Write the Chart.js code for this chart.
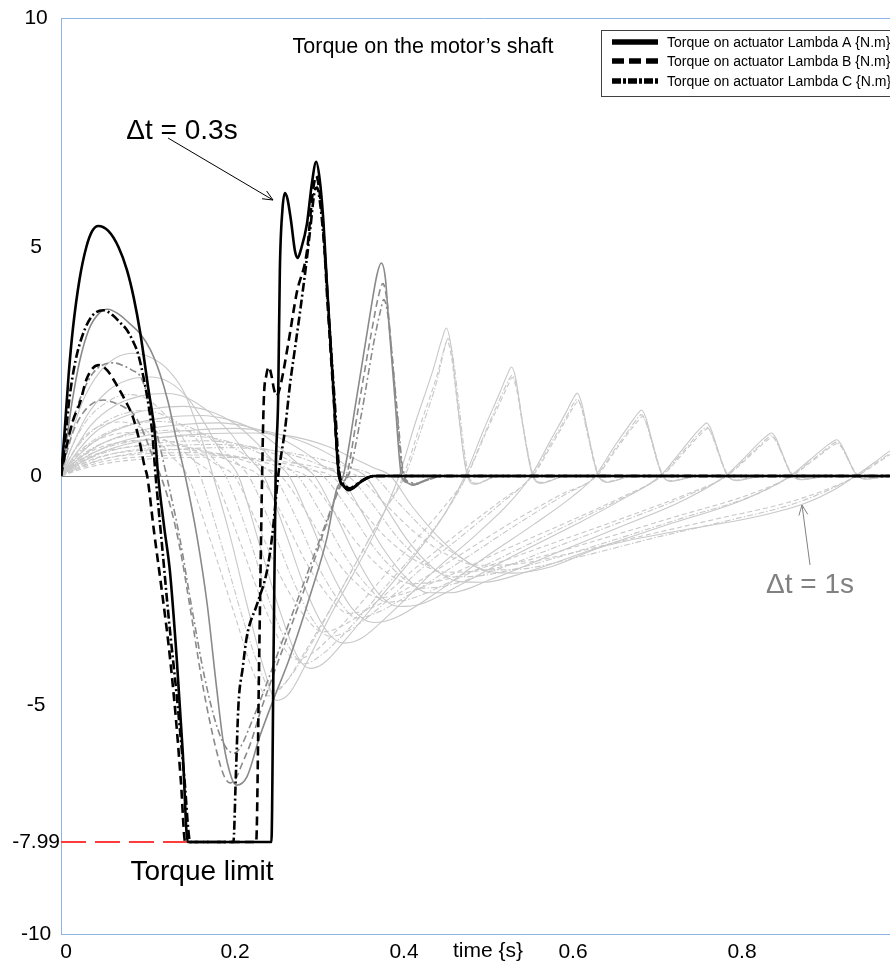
<!DOCTYPE html>
<html>
<head>
<meta charset="utf-8">
<script src="https://cdn.jsdelivr.net/npm/chart.js@4.4.0/dist/chart.umd.min.js"></script>
<style>
  html, body { margin: 0; padding: 0; background: #fff; overflow: hidden; }
  #wrap { position: relative; width: 930px; height: 965px; }
</style>
</head>
<body>
<div id="wrap"><canvas id="torqueChart" width="930" height="965"></canvas></div>
<script>
// time {s} / torque {N.m} pairs, one array per run
const TORQUE_LIMIT = -7.99;
const xTickValues = [0, 0.2, 0.4, 0.6, 0.8, 1];
const xTickLabels = ["0", "0.2", "0.4", "0.6", "0.8", "1"];
const yTickValues = [-10, -7.99, -5, 0, 5, 10];
const yTickLabels = ["-10", "-7.99", "-5", "0", "5", "10"];
const legendLabels = [
  "Torque on actuator Lambda A {N.m}",
  "Torque on actuator Lambda B {N.m}",
  "Torque on actuator Lambda C {N.m}",
];

const limitLine = [[0, TORQUE_LIMIT], [0.15, TORQUE_LIMIT]];

// dt = 0.3 s
const blackA = [[0,0],[0.004,0.9],[0.009,2.2],[0.014,3.2],[0.022,4.3],[0.030,5.0],[0.037,5.35],[0.044,5.46],[0.056,5.35],[0.068,5.0],[0.078,4.5],[0.086,3.9],[0.094,3.1],[0.103,1.95],[0.111,0.93],[0.115,0],[0.122,-1.1],[0.129,-2.1],[0.137,-4.0],[0.144,-6.0],[0.150,-7.99],[0.249,-7.99],[0.2515,-4.0],[0.254,0],[0.257,1.7],[0.259,4.5],[0.262,5.8],[0.265,6.18],[0.268,6.05],[0.272,5.6],[0.277,4.9],[0.280,4.76],[0.284,4.95],[0.291,5.5],[0.297,6.4],[0.302,6.86],[0.306,6.5],[0.310,5.7],[0.315,4.1],[0.322,2.0],[0.329,0],[0.334,-0.2],[0.340,-0.31],[0.347,-0.25],[0.354,-0.14],[0.362,-0.05],[0.370,0],[1,0]];
const blackB = [[0,0],[0.006,0.6],[0.014,1.2],[0.0225,1.6],[0.030,2.1],[0.038,2.36],[0.045,2.42],[0.055,2.3],[0.067,1.95],[0.076,1.65],[0.085,1.29],[0.093,0.75],[0.099,0.2],[0.102,0],[0.110,-1.2],[0.120,-2.6],[0.128,-3.8],[0.136,-5.3],[0.142,-6.7],[0.147,-7.99],[0.231,-7.99],[0.2345,-4.0],[0.238,0],[0.240,1.66],[0.243,2.2],[0.246,2.38],[0.249,2.2],[0.252,1.9],[0.255,1.75],[0.260,2.0],[0.269,2.9],[0.279,4.0],[0.291,4.9],[0.298,6.2],[0.302,6.55],[0.306,6.2],[0.310,5.5],[0.315,3.9],[0.322,1.9],[0.329,0],[0.334,-0.2],[0.340,-0.3],[0.347,-0.24],[0.355,-0.12],[0.370,0],[1,0]];
const blackC = [[0,0],[0.005,0.8],[0.010,1.7],[0.017,2.5],[0.026,3.1],[0.037,3.5],[0.050,3.62],[0.062,3.5],[0.070,3.35],[0.078,3.19],[0.085,2.95],[0.091,2.68],[0.099,2.03],[0.104,1.5],[0.108,0.94],[0.112,0],[0.120,-1.6],[0.128,-3.2],[0.137,-4.8],[0.146,-6.6],[0.153,-7.99],[0.204,-7.99],[0.207,-6.5],[0.210,-5.0],[0.215,-4.2],[0.220,-3.5],[0.232,-2.8],[0.244,-2.05],[0.250,-1.3],[0.257,0],[0.265,1.0],[0.271,2.0],[0.277,2.8],[0.283,3.6],[0.290,4.6],[0.295,5.4],[0.300,6.2],[0.303,6.3],[0.307,5.9],[0.312,4.9],[0.318,3.2],[0.324,1.6],[0.330,0],[0.335,-0.18],[0.341,-0.27],[0.350,-0.18],[0.360,-0.06],[0.372,0],[1,0]];

// dt = 0.38 s
const grayA = [[0,0],[0.006,0.7],[0.013,1.6],[0.022,2.5],[0.033,3.2],[0.045,3.55],[0.055,3.64],[0.067,3.55],[0.080,3.35],[0.094,3.1],[0.106,2.75],[0.117,2.24],[0.127,1.6],[0.135,0.93],[0.147,0],[0.161,-1.33],[0.173,-2.8],[0.184,-4.6],[0.192,-5.8],[0.202,-6.6],[0.208,-6.75],[0.220,-6.57],[0.235,-5.7],[0.251,-4.9],[0.271,-3.95],[0.295,-2.6],[0.315,-1.33],[0.326,-0.3],[0.334,0],[0.350,1.73],[0.366,3.56],[0.374,4.4],[0.379,4.65],[0.384,4.3],[0.387,3.56],[0.395,1.73],[0.403,0],[0.410,-0.15],[0.417,-0.2],[0.427,-0.12],[0.437,-0.05],[0.455,0],[1,0]];
const grayB = [[0,0],[0.006,0.45],[0.014,0.95],[0.025,1.35],[0.037,1.58],[0.050,1.66],[0.063,1.6],[0.075,1.5],[0.085,1.37],[0.094,1.1],[0.101,0.79],[0.109,0.4],[0.118,0],[0.130,-0.7],[0.141,-1.6],[0.153,-2.9],[0.168,-4.6],[0.184,-6.0],[0.193,-6.55],[0.200,-6.7],[0.207,-6.6],[0.214,-6.3],[0.225,-5.8],[0.235,-5.2],[0.252,-4.3],[0.272,-3.3],[0.295,-2.1],[0.315,-1.0],[0.330,-0.25],[0.338,0],[0.352,1.5],[0.368,3.2],[0.376,3.95],[0.381,4.2],[0.386,3.8],[0.390,3.0],[0.397,1.5],[0.405,0],[0.412,-0.15],[0.420,-0.18],[0.432,-0.1],[0.450,0],[1,0]];
const grayC = [[0,0],[0.006,0.55],[0.014,1.2],[0.025,1.8],[0.038,2.25],[0.050,2.43],[0.062,2.47],[0.075,2.4],[0.085,2.3],[0.093,2.2],[0.101,1.85],[0.109,1.29],[0.117,0.65],[0.125,0],[0.140,-1.3],[0.155,-2.9],[0.170,-4.4],[0.185,-5.5],[0.196,-5.95],[0.205,-6.05],[0.213,-5.9],[0.225,-5.4],[0.240,-4.7],[0.258,-3.8],[0.278,-2.8],[0.300,-1.7],[0.318,-0.8],[0.332,-0.15],[0.340,0],[0.355,1.3],[0.370,2.9],[0.378,3.6],[0.382,3.85],[0.387,3.5],[0.391,2.8],[0.398,1.4],[0.406,0],[0.414,-0.14],[0.422,-0.16],[0.435,-0.08],[0.452,0],[1,0]];

// slower runs, dt = 0.46 s up to 1 s
const run2A = [[0,0],[0.01,0.75],[0.025,1.6],[0.045,2.25],[0.065,2.58],[0.085,2.68],[0.105,2.6],[0.125,2.35],[0.145,1.85],[0.163,1.0],[0.180,0],[0.200,-1.3],[0.220,-2.8],[0.240,-4.2],[0.255,-4.9],[0.270,-4.75],[0.290,-4.1],[0.320,-3.0],[0.350,-2.0],[0.375,-1.1],[0.400,0],[0.420,1.2],[0.440,2.3],[0.451,3.0],[0.456,3.23],[0.461,2.9],[0.468,1.8],[0.476,0.5],[0.481,0],[0.490,-0.18],[0.500,-0.12],[0.515,0],[1,0]];
const run2B = [[0,0],[0.012,0.45],[0.03,0.9],[0.05,1.12],[0.07,1.18],[0.09,1.1],[0.11,0.85],[0.13,0.45],[0.15,0],[0.175,-1.3],[0.205,-3.0],[0.230,-4.4],[0.245,-4.8],[0.262,-4.6],[0.290,-3.8],[0.325,-2.7],[0.355,-1.7],[0.382,-0.8],[0.405,0],[0.425,1.1],[0.445,2.2],[0.453,2.75],[0.457,2.95],[0.462,2.6],[0.469,1.6],[0.477,0.4],[0.482,0],[0.491,-0.16],[0.502,-0.1],[0.517,0],[1,0]];
const run2C = [[0,0],[0.012,0.6],[0.03,1.2],[0.055,1.62],[0.078,1.78],[0.1,1.7],[0.12,1.4],[0.14,0.95],[0.155,0.45],[0.165,0],[0.19,-1.5],[0.215,-3.1],[0.235,-4.2],[0.250,-4.7],[0.266,-4.5],[0.295,-3.7],[0.328,-2.6],[0.358,-1.6],[0.385,-0.7],[0.407,0],[0.427,1.05],[0.446,2.15],[0.454,2.8],[0.458,3.0],[0.463,2.7],[0.47,1.7],[0.478,0.45],[0.483,0],[0.492,-0.17],[0.503,-0.1],[0.518,0],[1,0]];

const run3A = [[0,0],[0.012,0.6],[0.03,1.3],[0.055,1.85],[0.08,2.1],[0.105,2.16],[0.128,2.05],[0.150,1.7],[0.170,1.15],[0.190,0.5],[0.210,0],[0.235,-1.5],[0.260,-3.0],[0.280,-3.95],[0.295,-4.2],[0.310,-4.1],[0.340,-3.5],[0.380,-2.6],[0.420,-1.7],[0.455,-0.8],[0.478,0],[0.500,1.0],[0.520,1.85],[0.529,2.25],[0.533,2.38],[0.538,2.15],[0.545,1.3],[0.553,0.4],[0.558,0],[0.568,-0.16],[0.580,-0.1],[0.595,0],[1,0]];
const run3B = [[0,0],[0.014,0.35],[0.035,0.7],[0.06,0.9],[0.09,0.95],[0.115,0.85],[0.14,0.6],[0.16,0.3],[0.18,0],[0.205,-1.1],[0.235,-2.6],[0.262,-3.7],[0.278,-4.0],[0.295,-3.9],[0.33,-3.3],[0.37,-2.45],[0.41,-1.6],[0.45,-0.75],[0.48,0],[0.503,0.95],[0.522,1.7],[0.53,2.02],[0.534,2.15],[0.539,1.9],[0.546,1.15],[0.554,0.35],[0.559,0],[0.569,-0.14],[0.582,-0.08],[0.597,0],[1,0]];
const run3C = [[0,0],[0.014,0.5],[0.035,0.95],[0.065,1.3],[0.098,1.43],[0.125,1.3],[0.15,1.0],[0.172,0.55],[0.195,0],[0.22,-1.2],[0.248,-2.8],[0.272,-3.8],[0.288,-4.1],[0.305,-3.95],[0.34,-3.35],[0.38,-2.5],[0.42,-1.65],[0.455,-0.8],[0.48,0],[0.502,0.95],[0.521,1.75],[0.53,2.1],[0.534,2.2],[0.539,1.98],[0.546,1.2],[0.554,0.38],[0.559,0],[0.569,-0.15],[0.582,-0.09],[0.597,0],[1,0]];

const run4A = [[0,0],[0.014,0.5],[0.035,1.1],[0.065,1.55],[0.095,1.75],[0.125,1.8],[0.150,1.7],[0.175,1.4],[0.200,0.95],[0.220,0.45],[0.240,0],[0.265,-1.2],[0.290,-2.5],[0.315,-3.4],[0.335,-3.65],[0.355,-3.55],[0.390,-3.0],[0.440,-2.1],[0.490,-1.3],[0.530,-0.6],[0.556,0],[0.580,0.8],[0.598,1.4],[0.607,1.72],[0.611,1.81],[0.616,1.6],[0.623,1.0],[0.631,0.3],[0.636,0],[0.646,-0.14],[0.660,-0.08],[0.675,0],[1,0]];
const run4B = [[0,0],[0.016,0.3],[0.04,0.58],[0.075,0.75],[0.11,0.79],[0.14,0.7],[0.165,0.48],[0.185,0.24],[0.205,0],[0.23,-0.95],[0.26,-2.2],[0.29,-3.1],[0.31,-3.4],[0.33,-3.3],[0.37,-2.8],[0.42,-2.0],[0.47,-1.25],[0.52,-0.55],[0.558,0],[0.582,0.72],[0.6,1.3],[0.608,1.55],[0.612,1.63],[0.617,1.44],[0.624,0.9],[0.632,0.27],[0.637,0],[0.647,-0.12],[0.661,-0.07],[0.676,0],[1,0]];
const run4C = [[0,0],[0.016,0.42],[0.04,0.8],[0.078,1.1],[0.118,1.19],[0.15,1.08],[0.178,0.8],[0.2,0.42],[0.222,0],[0.247,-1.0],[0.275,-2.3],[0.3,-3.2],[0.318,-3.5],[0.338,-3.4],[0.375,-2.9],[0.425,-2.05],[0.475,-1.3],[0.522,-0.58],[0.557,0],[0.581,0.75],[0.599,1.32],[0.607,1.6],[0.611,1.68],[0.616,1.48],[0.623,0.92],[0.631,0.28],[0.636,0],[0.646,-0.13],[0.66,-0.07],[0.675,0],[1,0]];

const run5A = [[0,0],[0.016,0.45],[0.04,0.95],[0.075,1.3],[0.110,1.47],[0.145,1.52],[0.175,1.42],[0.205,1.15],[0.230,0.75],[0.250,0.35],[0.270,0],[0.295,-1.0],[0.320,-2.1],[0.345,-2.9],[0.370,-3.2],[0.395,-3.1],[0.440,-2.6],[0.500,-1.8],[0.560,-1.05],[0.605,-0.45],[0.632,0],[0.655,0.65],[0.674,1.15],[0.683,1.37],[0.687,1.44],[0.692,1.28],[0.699,0.8],[0.707,0.25],[0.712,0],[0.722,-0.12],[0.736,-0.07],[0.752,0],[1,0]];
const run5B = [[0,0],[0.018,0.26],[0.045,0.5],[0.085,0.64],[0.125,0.67],[0.16,0.59],[0.19,0.4],[0.215,0.2],[0.235,0],[0.262,-0.85],[0.292,-1.95],[0.32,-2.7],[0.34,-3.0],[0.362,-2.92],[0.41,-2.45],[0.47,-1.75],[0.53,-1.05],[0.59,-0.42],[0.634,0],[0.657,0.58],[0.676,1.05],[0.684,1.23],[0.688,1.3],[0.693,1.15],[0.7,0.72],[0.708,0.22],[0.713,0],[0.723,-0.1],[0.737,-0.06],[0.753,0],[1,0]];
const run5C = [[0,0],[0.018,0.36],[0.045,0.68],[0.09,0.93],[0.135,1.0],[0.17,0.9],[0.2,0.66],[0.228,0.33],[0.252,0],[0.278,-0.9],[0.305,-2.0],[0.332,-2.8],[0.35,-3.1],[0.372,-3.0],[0.42,-2.5],[0.48,-1.78],[0.54,-1.05],[0.595,-0.42],[0.633,0],[0.656,0.6],[0.675,1.08],[0.683,1.28],[0.687,1.34],[0.692,1.18],[0.699,0.74],[0.707,0.23],[0.712,0],[0.722,-0.11],[0.736,-0.06],[0.752,0],[1,0]];

const run6A = [[0,0],[0.018,0.4],[0.045,0.82],[0.085,1.13],[0.125,1.28],[0.165,1.32],[0.200,1.22],[0.235,0.95],[0.260,0.6],[0.280,0.28],[0.300,0],[0.325,-0.85],[0.350,-1.8],[0.375,-2.55],[0.400,-2.85],[0.425,-2.8],[0.470,-2.4],[0.540,-1.7],[0.610,-1.05],[0.670,-0.45],[0.709,0],[0.732,0.5],[0.751,0.93],[0.760,1.1],[0.764,1.16],[0.769,1.03],[0.776,0.65],[0.784,0.2],[0.789,0],[0.799,-0.1],[0.813,-0.06],[0.830,0],[1,0]];
const run6B = [[0,0],[0.02,0.23],[0.05,0.44],[0.095,0.56],[0.14,0.58],[0.18,0.51],[0.215,0.35],[0.24,0.18],[0.26,0],[0.29,-0.78],[0.32,-1.7],[0.35,-2.35],[0.375,-2.65],[0.4,-2.6],[0.45,-2.25],[0.52,-1.65],[0.6,-1.0],[0.665,-0.45],[0.711,0],[0.734,0.45],[0.753,0.84],[0.761,0.98],[0.765,1.04],[0.77,0.92],[0.777,0.58],[0.785,0.18],[0.79,0],[0.8,-0.09],[0.814,-0.05],[0.831,0],[1,0]];
const run6C = [[0,0],[0.02,0.32],[0.05,0.6],[0.1,0.8],[0.15,0.87],[0.19,0.79],[0.225,0.58],[0.255,0.3],[0.28,0],[0.308,-0.82],[0.338,-1.8],[0.365,-2.45],[0.385,-2.75],[0.41,-2.7],[0.46,-2.32],[0.53,-1.7],[0.605,-1.02],[0.668,-0.45],[0.71,0],[0.733,0.47],[0.752,0.87],[0.76,1.02],[0.764,1.07],[0.769,0.95],[0.776,0.6],[0.784,0.19],[0.789,0],[0.799,-0.09],[0.813,-0.05],[0.83,0],[1,0]];

const run7A = [[0,0],[0.02,0.36],[0.05,0.72],[0.095,1.0],[0.140,1.12],[0.185,1.16],[0.225,1.06],[0.260,0.82],[0.290,0.5],[0.310,0.22],[0.330,0],[0.355,-0.75],[0.380,-1.55],[0.410,-2.25],[0.435,-2.55],[0.460,-2.55],[0.510,-2.25],[0.590,-1.65],[0.670,-1.05],[0.740,-0.5],[0.786,0],[0.809,0.4],[0.828,0.76],[0.837,0.9],[0.841,0.94],[0.846,0.83],[0.853,0.52],[0.861,0.15],[0.866,0],[0.876,-0.08],[0.890,-0.05],[0.905,0],[1,0]];
const run7B = [[0,0],[0.022,0.2],[0.055,0.39],[0.105,0.49],[0.155,0.51],[0.2,0.45],[0.24,0.3],[0.268,0.15],[0.29,0],[0.32,-0.7],[0.352,-1.5],[0.385,-2.1],[0.415,-2.35],[0.445,-2.3],[0.5,-2.0],[0.58,-1.48],[0.665,-0.92],[0.74,-0.4],[0.788,0],[0.811,0.37],[0.83,0.69],[0.838,0.81],[0.842,0.85],[0.847,0.75],[0.854,0.47],[0.862,0.14],[0.867,0],[0.877,-0.07],[0.891,-0.04],[0.906,0],[1,0]];
const run7C = [[0,0],[0.022,0.28],[0.055,0.53],[0.11,0.71],[0.165,0.77],[0.21,0.7],[0.25,0.5],[0.283,0.24],[0.31,0],[0.34,-0.72],[0.37,-1.55],[0.4,-2.15],[0.425,-2.45],[0.455,-2.4],[0.51,-2.08],[0.59,-1.52],[0.67,-0.95],[0.742,-0.42],[0.787,0],[0.81,0.38],[0.829,0.71],[0.837,0.84],[0.841,0.88],[0.846,0.77],[0.853,0.49],[0.861,0.14],[0.866,0],[0.876,-0.08],[0.89,-0.04],[0.905,0],[1,0]];

const run8A = [[0,0],[0.022,0.33],[0.055,0.65],[0.105,0.9],[0.155,1.0],[0.205,1.04],[0.250,0.95],[0.290,0.72],[0.320,0.45],[0.340,0.2],[0.360,0],[0.385,-0.7],[0.410,-1.4],[0.440,-2.0],[0.470,-2.3],[0.500,-2.32],[0.550,-2.1],[0.630,-1.6],[0.720,-1.05],[0.810,-0.5],[0.863,0],[0.886,0.35],[0.905,0.64],[0.914,0.76],[0.918,0.79],[0.923,0.7],[0.930,0.44],[0.938,0.12],[0.943,0],[0.953,-0.07],[0.967,-0.04],[0.980,0],[1,0]];
const run8B = [[0,0],[0.024,0.18],[0.06,0.35],[0.115,0.44],[0.17,0.46],[0.22,0.4],[0.265,0.27],[0.295,0.13],[0.32,0],[0.35,-0.62],[0.385,-1.35],[0.42,-1.85],[0.455,-2.1],[0.49,-2.08],[0.55,-1.85],[0.635,-1.4],[0.725,-0.9],[0.815,-0.4],[0.865,0],[0.888,0.31],[0.907,0.58],[0.915,0.68],[0.919,0.71],[0.924,0.63],[0.931,0.39],[0.939,0.11],[0.944,0],[0.954,-0.06],[0.968,-0.03],[0.982,0],[1,0]];
const run8C = [[0,0],[0.024,0.25],[0.06,0.48],[0.12,0.64],[0.18,0.69],[0.23,0.62],[0.275,0.45],[0.31,0.22],[0.34,0],[0.37,-0.65],[0.4,-1.38],[0.432,-1.92],[0.465,-2.2],[0.5,-2.17],[0.56,-1.92],[0.645,-1.45],[0.735,-0.92],[0.82,-0.42],[0.864,0],[0.887,0.32],[0.906,0.6],[0.914,0.71],[0.918,0.74],[0.923,0.65],[0.93,0.41],[0.938,0.12],[0.943,0],[0.953,-0.06],[0.967,-0.03],[0.981,0],[1,0]];

const run9A = [[0,0],[0.024,0.3],[0.06,0.6],[0.115,0.83],[0.170,0.92],[0.225,0.94],[0.275,0.86],[0.315,0.65],[0.345,0.4],[0.370,0.18],[0.390,0],[0.415,-0.65],[0.445,-1.3],[0.475,-1.8],[0.505,-2.08],[0.535,-2.12],[0.580,-1.98],[0.640,-1.55],[0.730,-1.2],[0.820,-0.9],[0.880,-0.6],[0.915,-0.3],[0.940,0],[0.963,0.3],[0.982,0.56],[0.991,0.66],[0.995,0.68],[1,0.55]];
const run9B = [[0,0],[0.026,0.16],[0.065,0.31],[0.125,0.39],[0.185,0.41],[0.24,0.36],[0.29,0.24],[0.325,0.11],[0.35,0],[0.382,-0.58],[0.418,-1.22],[0.455,-1.7],[0.495,-1.95],[0.535,-1.93],[0.6,-1.7],[0.69,-1.3],[0.78,-0.92],[0.86,-0.58],[0.905,-0.3],[0.942,0],[0.965,0.27],[0.984,0.5],[0.992,0.58],[0.996,0.61],[1,0.5]];
const run9C = [[0,0],[0.026,0.22],[0.065,0.43],[0.13,0.57],[0.195,0.62],[0.25,0.56],[0.3,0.4],[0.34,0.19],[0.37,0],[0.4,-0.6],[0.435,-1.26],[0.47,-1.75],[0.505,-2.05],[0.545,-2.03],[0.61,-1.78],[0.7,-1.36],[0.79,-0.97],[0.865,-0.62],[0.908,-0.31],[0.941,0],[0.964,0.28],[0.983,0.52],[0.991,0.62],[0.995,0.64],[1,0.52]];

// line looks per actuator (A solid, B dashed, C dash-dot) and per shade
const FONT = "'Liberation Sans', Arial, sans-serif";
const DASH = {
  black: { A: [], B: [9, 5], C: [9, 3, 2, 3] },
  gray:  { A: [], B: [7, 4], C: [7, 3, 2, 3] },
  light: { A: [], B: [5, 3], C: [6, 2, 1.5, 2] },
};
const SHADE = {
  black: { color: "#000000", width: 2.6 },
  gray:  { color: "#8a8a8a", width: 1.6 },
  light: { color: "#c8c8c8", width: 1.1 },
};

const runs = [
  { shade: "black", A: blackA, B: blackB, C: blackC },
  { shade: "gray", A: grayA, B: grayB, C: grayC },
  { shade: "light", A: run2A, B: run2B, C: run2C },
  { shade: "light", A: run3A, B: run3B, C: run3C },
  { shade: "light", A: run4A, B: run4B, C: run4C },
  { shade: "light", A: run5A, B: run5B, C: run5C },
  { shade: "light", A: run6A, B: run6B, C: run6C },
  { shade: "light", A: run7A, B: run7B, C: run7C },
  { shade: "light", A: run8A, B: run8B, C: run8C },
  { shade: "light", A: run9A, B: run9B, C: run9C },
];

// first dataset is painted last, so the black runs end up on top
const datasets = [];
runs.forEach((run, i) => {
  ["A", "B", "C"].forEach((act, j) => {
    datasets.push({
      label: i === 0 ? legendLabels[j] : "run " + (i + 1) + " " + act,
      data: run[act],
      borderColor: SHADE[run.shade].color,
      borderWidth: SHADE[run.shade].width,
      borderDash: DASH[run.shade][act],
      pointRadius: 0,
      fill: false,
      cubicInterpolationMode: "monotone",
    });
  });
});
datasets.splice(3, 0, {
  label: "limit",
  data: limitLine,
  borderColor: "#ff3b3b",
  borderWidth: 2,
  borderDash: [25, 9],
  pointRadius: 0,
  fill: false,
});

function arrow(ctx, x1, y1, x2, y2, color) {
  const a = Math.atan2(y2 - y1, x2 - x1);
  const len = 11, spread = 0.42;
  ctx.save();
  ctx.strokeStyle = color;
  ctx.lineWidth = 1;
  ctx.beginPath();
  ctx.moveTo(x1, y1);
  ctx.lineTo(x2, y2);
  ctx.moveTo(x2 - len * Math.cos(a - spread), y2 - len * Math.sin(a - spread));
  ctx.lineTo(x2, y2);
  ctx.lineTo(x2 - len * Math.cos(a + spread), y2 - len * Math.sin(a + spread));
  ctx.stroke();
  ctx.restore();
}

const decorations = {
  id: "decorations",
  afterDraw(chart) {
    const { ctx, chartArea } = chart;
    ctx.save();
    // top edge of the plot frame
    ctx.strokeStyle = "#8eb4e3";
    ctx.lineWidth = 1;
    ctx.beginPath();
    ctx.moveTo(chartArea.left, chartArea.top + 0.5);
    ctx.lineTo(chartArea.right, chartArea.top + 0.5);
    ctx.stroke();

    ctx.fillStyle = "#000";
    ctx.textAlign = "center";
    ctx.textBaseline = "alphabetic";
    ctx.font = "21.5px " + FONT;
    ctx.fillText("Torque on the motor\u2019s shaft", 423, 53);
    ctx.font = "21px " + FONT;
    ctx.fillText("time {s}", 488, 957);

    ctx.font = "28px " + FONT;
    ctx.fillText("\u0394t = 0.3s", 182, 139);
    ctx.fillText("Torque limit", 202, 880);
    ctx.fillStyle = "#808080";
    ctx.fillText("\u0394t = 1s", 810, 593);

    arrow(ctx, 168, 138, 273, 200, "#000");
    arrow(ctx, 810, 565, 802, 505, "#808080");

    // legend box for the three 0.3 s runs
    ctx.fillStyle = "#fff";
    ctx.fillRect(601, 30, 300, 66);
    ctx.strokeStyle = "#404040";
    ctx.strokeRect(601.5, 30.5, 300, 66);
    const rowY = [42, 61, 81];
    const dashes = [[], [12, 5], [9, 2, 3, 2]];
    ctx.font = "14px " + FONT;
    ctx.textAlign = "left";
    ctx.textBaseline = "middle";
    legendLabels.forEach((label, i) => {
      ctx.strokeStyle = "#000";
      ctx.lineWidth = 5.5;
      ctx.setLineDash(dashes[i]);
      ctx.beginPath();
      ctx.moveTo(612, rowY[i]);
      ctx.lineTo(658, rowY[i]);
      ctx.stroke();
      ctx.setLineDash([]);
      ctx.fillStyle = "#000";
      ctx.fillText(label, 667, rowY[i] + 1);
    });
    ctx.restore();
  },
};

new Chart(document.getElementById("torqueChart"), {
  type: "line",
  data: { datasets },
  plugins: [decorations],
  options: {
    responsive: false,
    animation: false,
    events: [],
    layout: { padding: { left: 0, top: 18, right: 24, bottom: 0 } },
    plugins: {
      legend: { display: false },
      title: { display: false },
      tooltip: { enabled: false },
    },
    scales: {
      x: {
        type: "linear",
        min: 0,
        max: 1,
        afterFit: (scale) => { scale.height = 31; },
        afterBuildTicks: (scale) => { scale.ticks = xTickValues.map((v) => ({ value: v })); },
        grid: { display: false, drawTicks: false },
        border: { display: true, color: "#8eb4e3", width: 1 },
        ticks: {
          padding: 6,
          labelOffset: 5,
          maxRotation: 0,
          autoSkip: false,
          color: "#000",
          font: { family: FONT, size: 21 },
          callback: (v, i) => xTickLabels[i],
        },
      },
      y: {
        type: "linear",
        min: -10,
        max: 10,
        afterFit: (scale) => { scale.width = 61; },
        afterBuildTicks: (scale) => { scale.ticks = yTickValues.map((v) => ({ value: v })); },
        grid: {
          drawTicks: false,
          color: (c) => (c.tick && c.tick.value === 0 ? "#7f7f7f" : "rgba(0,0,0,0)"),
          lineWidth: 1,
        },
        border: { display: true, color: "#8eb4e3", width: 1 },
        ticks: {
          padding: 1,
          crossAlign: "center",
          autoSkip: false,
          color: "#000",
          font: { family: FONT, size: 21 },
          callback: (v, i) => yTickLabels[i],
        },
      },
    },
  },
});
</script>
</body>
</html>
